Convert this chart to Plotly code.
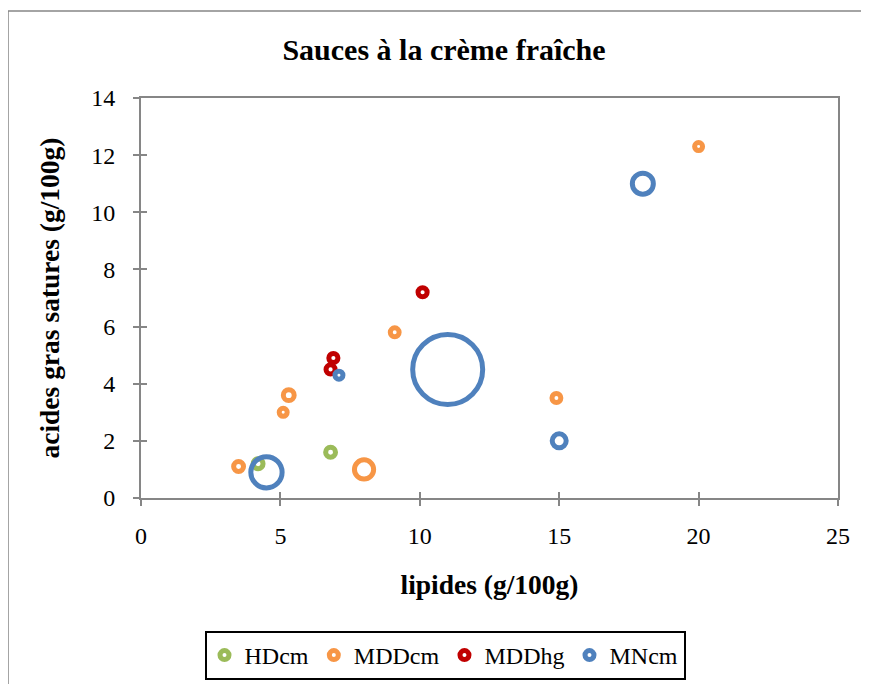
import plotly.graph_objects as go

# ---- data ----
series_names = ["HDcm", "MDDcm", "MDDhg", "MNcm"]
colors = ["#9BBB59", "#F79646", "#C00000", "#4F81BD"]

hd_x = [4.2, 6.8]
hd_y = [1.2, 1.6]
hd_s = [2.0, 2.0]

mddcm_x = [3.5, 5.1, 5.3, 8.0, 9.1, 14.9, 20.0]
mddcm_y = [1.1, 3.0, 3.6, 1.0, 5.8, 3.5, 12.3]
mddcm_s = [2.0, 1.3, 2.4, 7.5, 1.6, 1.6, 1.3]

mddhg_x = [6.8, 6.9, 10.1]
mddhg_y = [4.5, 4.9, 7.2]
mddhg_s = [1.7, 1.7, 1.7]

mn_x = [4.5, 7.1, 11.0, 15.0, 18.0]
mn_y = [0.9, 4.3, 4.5, 2.0, 11.0]
mn_s = [20.0, 1.3, 100.0, 4.0, 9.0]

x_ticks = [0, 5, 10, 15, 20, 25]
y_ticks = [0, 2, 4, 6, 8, 10, 12, 14]

FONT = "Liberation Serif"
OFF = 8  # page body margin
W, H = 869 - OFF, 684 - OFF
# target plot area in page pixels: x 141..838, y 98..498
L, T = 141 - OFF, 98 - OFF
pw, ph = 838 - 141, 498 - 98
R = W - L - pw
B = H - T - ph

def px2paper_x(p):
    return (p - OFF - L) / pw

def px2paper_y(p):
    return (T + ph - (p - OFF)) / ph

fig = go.Figure()
data = [(hd_x, hd_y, hd_s), (mddcm_x, mddcm_y, mddcm_s),
        (mddhg_x, mddhg_y, mddhg_s), (mn_x, mn_y, mn_s)]
sizeref = 2 * 100.0 / (70 ** 2)
for name, col, (xs, ys, ss) in zip(series_names, colors, data):
    fig.add_trace(go.Scatter(
        x=xs, y=ys, mode="markers", name=name, legendgroup=name,
        showlegend=False,
        marker=dict(size=ss, sizemode="area", sizeref=sizeref, opacity=1,
                    color="rgba(255,255,255,0)",
                    line=dict(color=col, width=5)),
    ))
# legend entries (legend-only look of the series)
for name, col in zip(series_names, colors):
    fig.add_trace(go.Scatter(
        x=[None], y=[None], mode="markers", name=name, legendgroup=name,
        marker=dict(size=9, opacity=1, color="rgba(255,255,255,0)",
                    line=dict(color=col, width=5)),
        hoverinfo="skip",
    ))

axis_common = dict(showgrid=False, zeroline=False, showline=True,
                   linecolor="#868686", linewidth=2, ticks="outside",
                   ticklen=6, tickwidth=1.5, tickcolor="#868686",
                   tickfont=dict(family=FONT, size=24, color="black"))

fig.update_layout(
    width=W, height=H,
    margin=dict(l=L, r=R, t=T, b=B, autoexpand=False),
    paper_bgcolor="white", plot_bgcolor="white",
    title=dict(text="<b>Sauces à la crème fraîche</b>", x=(444 - OFF) / W, xanchor="center",
               y=1 - (49 - OFF) / H, yanchor="middle",
               font=dict(family=FONT, size=30, color="black")),
    xaxis=dict(range=[0, 25], tickvals=x_ticks, mirror=True, ticklabelstandoff=9,
               title=dict(text="<b>lipides (g/100g)</b>", standoff=27,
                          font=dict(family=FONT, size=27.5, color="black")),
               **axis_common),
    yaxis=dict(range=[0, 14], tickvals=y_ticks, mirror=True, ticklabelstandoff=13,
               title=dict(text="<b>acides gras satures (g/100g)</b>", standoff=24,
                          font=dict(family=FONT, size=27.5, color="black")),
               **axis_common),
    yaxis2=dict(range=[0, 14], tickvals=y_ticks, overlaying="y", side="left",
                showgrid=False, zeroline=False, showline=False,
                ticks="inside", ticklen=6, tickwidth=1.5, tickcolor="#868686",
                showticklabels=False),
    xaxis2=dict(range=[0, 25], tickvals=x_ticks, overlaying="x", side="bottom",
                showgrid=False, zeroline=False, showline=False,
                ticks="inside", ticklen=6, tickwidth=1.5, tickcolor="#868686",
                showticklabels=False),
    legend=dict(orientation="h", xref="container", yref="container",
                x=(445 - OFF) / W, xanchor="center",
                y=1 - (631 - OFF) / H, yanchor="top",
                bordercolor="black", borderwidth=2, bgcolor="white",
                font=dict(family=FONT, size=24, color="black"),
                tracegroupgap=0),
    showlegend=True,
)

# invisible trace to activate the secondary axes (cross ticks)
fig.add_trace(go.Scatter(x=[None], y=[None], xaxis="x2", yaxis="y2",
                         showlegend=False, hoverinfo="skip"))

# outer chart border (extends beyond the right and bottom edges)
fig.add_shape(type="line", xref="paper", yref="paper",
              x0=px2paper_x(8), x1=px2paper_x(900),
              y0=px2paper_y(11), y1=px2paper_y(11),
              line=dict(color="#868686", width=1.5))
fig.add_shape(type="line", xref="paper", yref="paper",
              x0=px2paper_x(8), x1=px2paper_x(8),
              y0=px2paper_y(11), y1=px2paper_y(720),
              line=dict(color="#868686", width=1.5))

fig.write_html("out.html")
